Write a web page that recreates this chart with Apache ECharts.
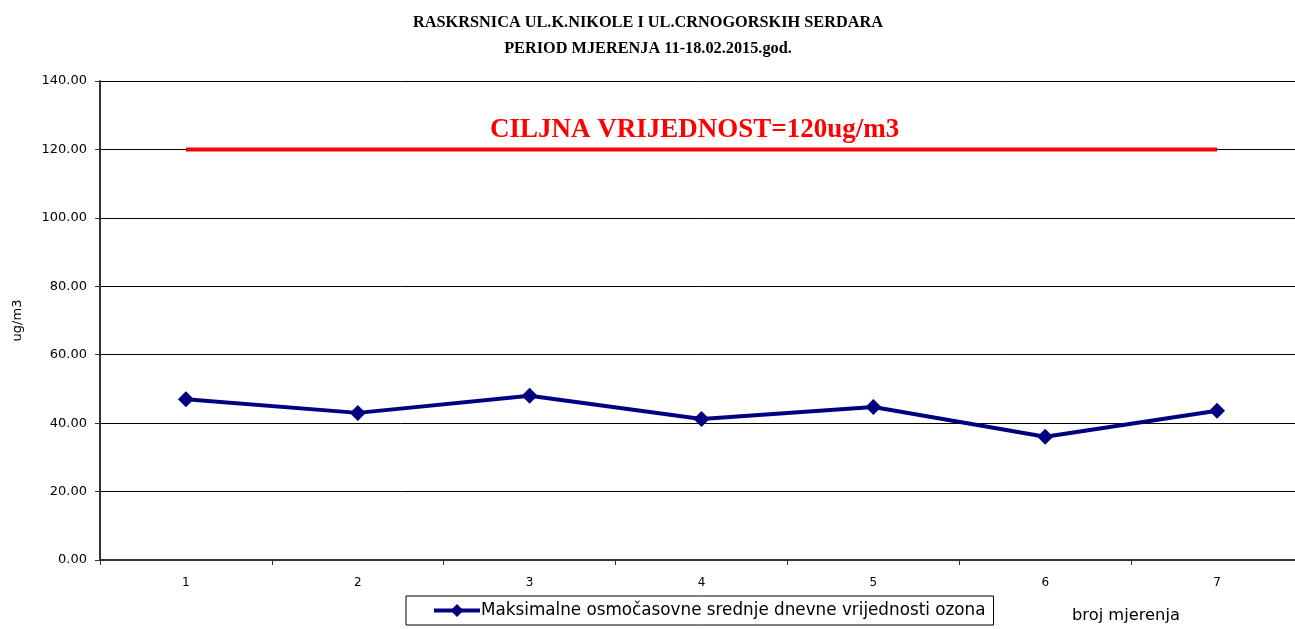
<!DOCTYPE html>
<html><head><meta charset="utf-8">
<script src="https://cdn.jsdelivr.net/npm/echarts@6/dist/echarts.min.js"></script>
<style>html,body{margin:0;padding:0;background:#fff;overflow:hidden}#c{width:1303px;height:629px}</style>
</head><body><div id="c"></div>
<script>
const categories = ['1','2','3','4','5','6','7'];
const ozone = [47.0, 43.0, 48.0, 41.2, 44.7, 36.0, 43.6];
const target = [120, 120, 120, 120, 120, 120, 120];
const seriesName = 'Maksimalne osmočasovne srednje dnevne vrijednosti ozona';
const titleText = 'RASKRSNICA UL.K.NIKOLE I UL.CRNOGORSKIH SERDARA\nPERIOD MJERENJA 11-18.02.2015.god.';
const targetLabel = 'CILJNA VRIJEDNOST=120ug/m3';

const chart = echarts.init(document.getElementById('c'));
chart.setOption({
  animation: false,
  backgroundColor: '#fff',
  title: {
    text: titleText, left: 643, top: 5, textAlign: 'center',
    textStyle: {fontFamily: 'Liberation Serif', fontWeight: 'bold', fontSize: 16.3, lineHeight: 26, color: '#000'}
  },
  grid: {left: 100, top: 81, right: 0, height: 479, containLabel: false},
  legend: {
    data: [{name: seriesName}], left: 406, top: 596,
    borderColor: '#000', borderWidth: 1, padding: [6, 8, 6, 26],
    itemWidth: 46, itemHeight: 16, itemGap: 0,
    lineStyle: {width: 4},
    textStyle: {fontFamily: 'DejaVu Sans', fontSize: 16.8, color: '#000', padding: [0, 0, 0, -4]}
  },
  xAxis: {
    type: 'category', data: categories, boundaryGap: true,
    name: 'broj mjerenja', nameLocation: 'end',
    nameTextStyle: {fontFamily: 'DejaVu Sans', fontSize: 16.3, color: '#000', align: 'left', verticalAlign: 'top', padding: [48, 0, 0, -246]},
    axisLine: {lineStyle: {color: '#333', width: 2}},
    axisTick: {show: true, length: 5, lineStyle: {color: '#333'}},
    axisLabel: {fontFamily: 'DejaVu Sans', fontSize: 12, color: '#000', margin: 17}
  },
  yAxis: {
    type: 'value', min: 0, max: 140, interval: 20,
    name: 'ug/m3', nameLocation: 'middle', nameGap: 76, nameRotate: 90,
    nameTextStyle: {fontFamily: 'DejaVu Sans', fontSize: 13, color: '#000'},
    axisLine: {show: true, lineStyle: {color: '#333', width: 2}},
    axisTick: {show: true, length: 5, lineStyle: {color: '#333'}},
    axisLabel: {fontFamily: 'DejaVu Sans', fontSize: 13, color: '#000', margin: 13, formatter: v => v.toFixed(2)},
    splitLine: {show: true, lineStyle: {color: '#000', width: 1}}
  },
  graphic: [{
    type: 'text', left: 490, top: 117,
    style: {text: targetLabel, fill: '#ff0000', font: 'bold 27px "Liberation Serif"'}
  }],
  series: [
    {
      name: 'target', type: 'line', data: target, symbol: 'none',
      lineStyle: {color: '#ff0000', width: 4}, z: 3, silent: true
    },
    {
      name: seriesName, type: 'line', data: ozone,
      symbol: 'diamond', symbolSize: 16,
      itemStyle: {color: '#000080'},
      lineStyle: {color: '#000080', width: 4}, z: 4
    }
  ]
});
</script></body></html>
